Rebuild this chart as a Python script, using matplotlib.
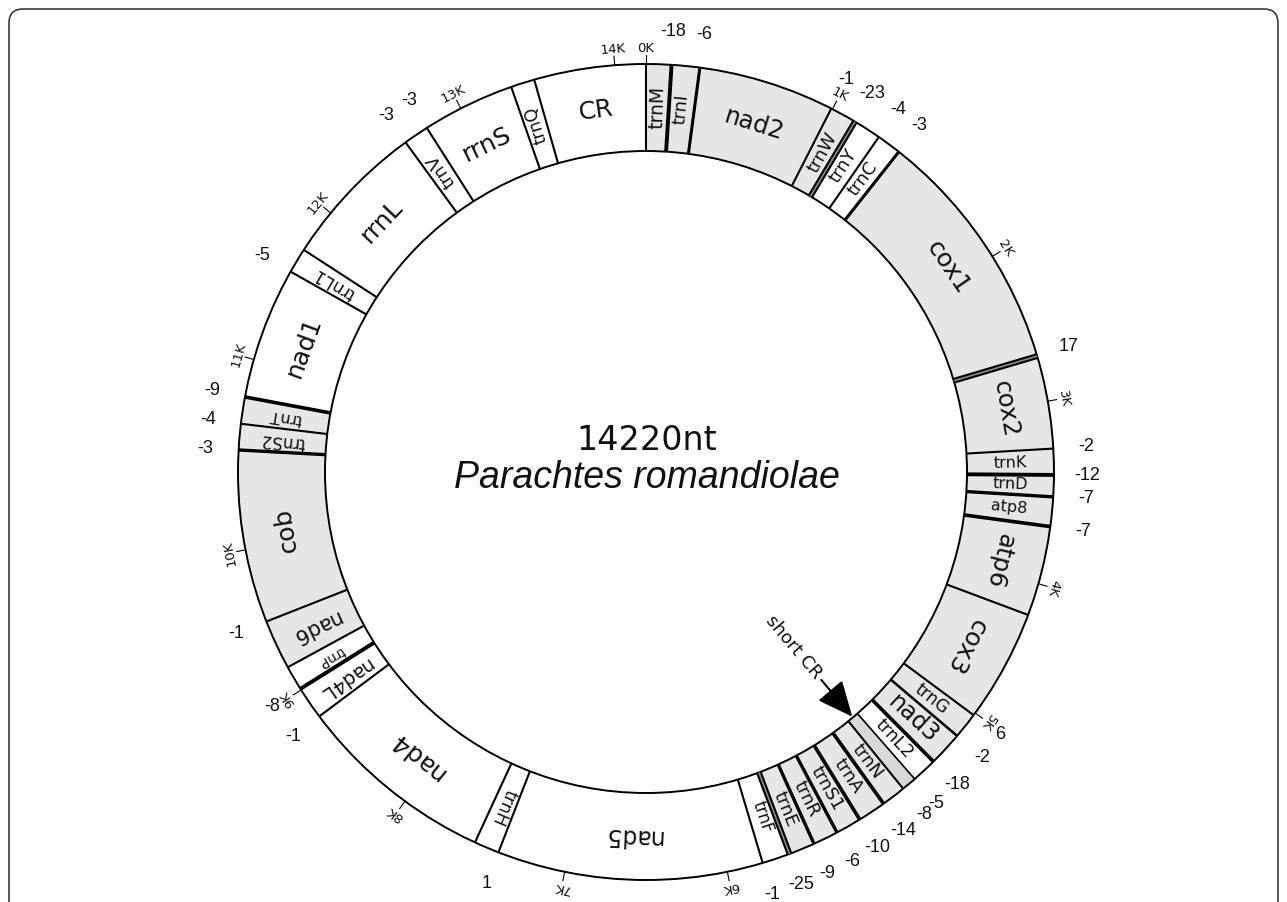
import numpy as np
import matplotlib
matplotlib.use('Agg')
import matplotlib.pyplot as plt
from matplotlib.patches import Wedge, Circle, FancyBboxPatch

# ---------------- data ----------------
GENOME_LENGTH = 14220
SPECIES = 'Parachtes romandiolae'
GENES = ['trnM', 'trnI', 'nad2', 'trnW', 'trnY', 'trnC', 'cox1', 'cox2', 'trnK', 'trnD',
         'atp8', 'atp6', 'cox3', 'trnG', 'nad3', 'trnL2', 'short CR', 'trnN', 'trnA', 'trnS1',
         'trnR', 'trnE', 'trnF', 'nad5', 'trnH', 'nad4', 'nad4L', 'trnP', 'nad6', 'cob',
         'trnS2', 'trnT', 'nad1', 'trnL1', 'rrnL', 'trnV', 'rrnS', 'trnQ', 'CR']
STARTS = [0, 132, 279, 993, 1117, 1246, 1359, 2703, 3259, 3402,
          3521, 3683, 4227, 5009, 5097, 5213, 5298, 5348, 5430, 5525,
          5612, 5697, 5785, 5879, 7393, 7538, 8791, 9009, 9174, 9507,
          10522, 10659, 10800, 11573, 11726, 12614, 12767, 13341, 13491]
STRAND = ['J', 'J', 'J', 'J', 'N', 'N', 'J', 'J', 'J', 'J',
          'J', 'J', 'J', 'J', 'J', 'N', 'NC', 'J', 'J', 'J',
          'J', 'J', 'N', 'N', 'N', 'N', 'N', 'N', 'J', 'J',
          'J', 'J', 'N', 'N', 'N', 'N', 'N', 'N', 'CR']
# overlap (-) / spacer (+) at the junction following each gene
OVERLAPS = [-18, -6, -1, -23, -4, -3, 17, -2, -12, -7,
            -7, None, 6, -2, -18, -5, -8, -14, -10, -6,
            -9, -25, -1, 1, None, -1, -8, None, -1, -3,
            -4, -9, -5, None, -3, -3, None, None, None]
TICK_NT = [0, 1000, 2000, 3000, 4000, 5000, 6000, 7000, 8000, 9000,
           10000, 11000, 12000, 13000, 14000]
TICK_LABELS = ['0K', '1K', '2K', '3K', '4K', '5K', '6K', '7K', '8K', '9K',
               '10K', '11K', '12K', '13K', '14K']

# ---------------- layout / style ----------------
W, H = 1287, 902
CX, CY = 646, 472
R_OUT, R_IN = 408, 321
# angular position (deg, clockwise from top) at which each tick is drawn
TICK_ANGLE = [0, 27.2, 58.1, 80.0, 105.9, 126.2, 168.5, 191.5, 216.2, 237.7,
              259.0, 286.0, 309.4, 333.0, 355.6]
FILL = {'J': '#e6e6e6', 'N': '#ffffff', 'NC': '#d8dad8', 'CR': '#ffffff'}
LABEL_STYLE = {
    'trnM': ('r', 13.5), 'trnI': ('r', 13), 'nad2': ('t', 17.5), 'trnW': ('r', 13),
    'trnY': ('r', 13), 'trnC': ('r', 13), 'cox1': ('t', 18), 'cox2': ('t', 17.5),
    'trnK': ('r', 11.5), 'trnD': ('r', 11.5), 'atp8': ('r', 11.5), 'atp6': ('t', 17.5),
    'cox3': ('t', 18), 'trnG': ('r', 12.5), 'nad3': ('r', 17), 'trnL2': ('r', 13),
    'trnN': ('r', 13), 'trnA': ('r', 13), 'trnS1': ('r', 13), 'trnR': ('r', 13),
    'trnE': ('r', 13), 'trnF': ('r', 12), 'nad5': ('t', 17), 'trnH': ('r', 12.5),
    'nad4': ('t', 18), 'nad4L': ('r', 14), 'trnP': ('r', 10), 'nad6': ('r', 15),
    'cob': ('t', 18), 'trnS2': ('r', 12), 'trnT': ('r', 11.5), 'nad1': ('t', 18),
    'trnL1': ('r', 12.5), 'rrnL': ('t', 18), 'trnV': ('r', 12.5), 'rrnS': ('t', 18),
    'trnQ': ('r', 12.5), 'CR': ('t', 18),
}
# junction line style following each gene: number = width (pt), 'd' = double line
JUNCTION_LW = [2.8, 2.2, 1.5, 'd', 1.5, 2.2, 'd', 1.5, 2.8, 2.4,
               2.6, 1.5, 1.5, 1.8, 2.6, 1.2, 1.5, 2.6, 2.6, 2.4,
               2.4, 'd', 1.5, 1.5, 1.5, 1.5, 2.8, 1.5, 1.5, 2.4,
               1.5, 2.6, 1.5, 1.5, 1.5, 1.5, 1.5, 1.5, 1.5]


def ang(nt):
    return np.interp(nt, TICK_NT + [GENOME_LENGTH], TICK_ANGLE + [360.0])


def xy(theta, r):
    t = np.radians(theta)
    return CX + r * np.sin(t), CY - r * np.cos(t)


fig = plt.figure(figsize=(W / 100, H / 100), dpi=100)
ax = fig.add_axes([0, 0, 1, 1])
ax.set_xlim(0, W)
ax.set_ylim(H, 0)
ax.set_aspect('equal')
ax.axis('off')

# frame
ax.add_patch(FancyBboxPatch((9, 9), W - 18, H + 40,
                            boxstyle='round,pad=0,rounding_size=14',
                            fill=False, ec='#3a3a3a', lw=1.2))

ENDS = STARTS[1:] + [GENOME_LENGTH]

# gene sectors
for g, s, e, st in zip(GENES, STARTS, ENDS, STRAND):
    a0, a1 = ang(s), ang(e)
    ax.add_patch(Wedge((CX, CY), R_OUT, a0 - 90, a1 - 90, width=R_OUT - R_IN,
                       facecolor=FILL[st], edgecolor='none', zorder=1))

# ring outlines
ax.add_patch(Circle((CX, CY), R_OUT, fill=False, ec='black', lw=1.4, zorder=3))
ax.add_patch(Circle((CX, CY), R_IN, fill=False, ec='black', lw=1.4, zorder=3))

# junction lines and overlap / spacer values
for i, e in enumerate(ENDS):
    th = ang(e) if e < GENOME_LENGTH else 0.0
    x0, y0 = xy(th, R_IN)
    x1, y1 = xy(th, R_OUT)
    style = JUNCTION_LW[i]
    if style == 'd':
        ax.plot([x0, x1], [y0, y1], color='black', lw=4.2, solid_capstyle='butt', zorder=4)
        ax.plot([x0, x1], [y0, y1], color='#8c8c8c', lw=1.2, solid_capstyle='butt', zorder=5)
    else:
        ax.plot([x0, x1], [y0, y1], color='black', lw=style, solid_capstyle='butt', zorder=4)
    ov = OVERLAPS[i]
    if ov is not None:
        tx, ty = xy(th, R_OUT + 33)
        ax.text(tx, ty, f'{ov}', ha='center', va='center', fontsize=13,
                family='Liberation Sans', color='#111111')

# gene labels
for g, s, e in zip(GENES, STARTS, ENDS):
    if g not in LABEL_STYLE:
        continue
    orient, fs = LABEL_STYLE[g]
    mid = (ang(s) + ang(e)) / 2
    x, y = xy(mid, (R_IN + R_OUT) / 2)
    rot = -mid if orient == 't' else 90 - mid
    ax.text(x, y, g, rotation=rot, rotation_mode='anchor', ha='center', va='center',
            fontsize=fs, family='DejaVu Sans', color='#111111', zorder=6)

# ticks
for nt, lab in zip(TICK_NT, TICK_LABELS):
    th = ang(nt)
    x0, y0 = xy(th, R_OUT)
    x1, y1 = xy(th, R_OUT + 9)
    ax.plot([x0, x1], [y0, y1], color='black', lw=0.8, zorder=4)
    tx, ty = xy(th, R_OUT + 16)
    ax.text(tx, ty, lab, rotation=-th, rotation_mode='anchor', ha='center', va='center',
            fontsize=9.5, family='DejaVu Sans', color='#111111')

# short CR annotation
i_cr = GENES.index('short CR')
mid = (ang(STARTS[i_cr]) + ang(ENDS[i_cr])) / 2
tx, ty = xy(mid, 229)
ax.text(tx, ty, 'short CR', rotation=90 - mid, rotation_mode='anchor', ha='center',
        va='center', fontsize=13, family='DejaVu Sans', color='#111111')
ax.annotate('', xy=xy(mid, R_IN - 1), xytext=xy(mid, 272),
            arrowprops=dict(arrowstyle='-|>,head_length=1.0,head_width=0.45',
                            mutation_scale=22, lw=1.5, color='black',
                            shrinkA=0, shrinkB=0))

# centre titles
ax.text(CX + 1, CY - 32, f'{GENOME_LENGTH}nt', ha='center', va='center',
        fontsize=24, family='DejaVu Sans', color='#111111')
ax.text(CX + 1, CY + 6, SPECIES, ha='center', va='center', fontsize=27,
        family='Liberation Sans', style='italic', color='#111111')

fig.savefig('out.png', dpi=100)
